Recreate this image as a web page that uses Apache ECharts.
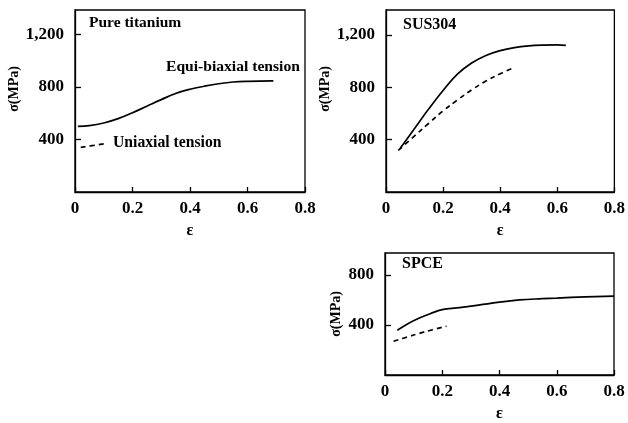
<!DOCTYPE html>
<html>
<head>
<meta charset="utf-8">
<script src="https://cdn.jsdelivr.net/npm/echarts@6/dist/echarts.min.js"></script>
<style>
  html, body { margin: 0; padding: 0; background: #fff; }
  #chart { width: 628px; height: 423px; }
</style>
</head>
<body>
<div id="chart"></div>
<script>
// strain / stress readings, [epsilon, sigma MPa]
const titaniumBiaxial = [
  [0.01, 500], [0.05, 505], [0.1, 525], [0.15, 558], [0.2, 603], [0.25, 653],
  [0.3, 703], [0.35, 750], [0.4, 782], [0.45, 805], [0.5, 824], [0.55, 837],
  [0.6, 842], [0.69, 845]
];
const titaniumUniaxial = [[0.02, 340], [0.1, 366]];

const susBiaxial = [
  [0.05, 335], [0.1, 485], [0.15, 635], [0.2, 775], [0.25, 900], [0.3, 985],
  [0.35, 1043], [0.4, 1080], [0.45, 1103], [0.5, 1116], [0.55, 1122], [0.6, 1124], [0.63, 1120]
];
const susUniaxial = [
  [0.043, 318], [0.1, 428], [0.15, 525], [0.2, 620], [0.25, 702],
  [0.3, 780], [0.35, 847], [0.4, 903], [0.45, 951]
];

const spceBiaxial = [
  [0.043, 357], [0.08, 410], [0.12, 455], [0.16, 492], [0.2, 522], [0.25, 537],
  [0.3, 550], [0.35, 566], [0.4, 582], [0.47, 600], [0.55, 610], [0.6, 615],
  [0.7, 624], [0.8, 630]
];
const spceUniaxial = [[0.03, 270], [0.08, 305], [0.12, 333], [0.16, 358], [0.215, 390]];

const xTicks = [0, 0.2, 0.4, 0.6, 0.8];
const panelTitles = ['Pure titanium', 'SUS304', 'SPCE'];

const chart = echarts.init(document.getElementById('chart'));
const FONT = '"Liberation Serif", "DejaVu Serif", serif';

const fmtY = v => v >= 1000 ? String(v).replace(/(\d)(\d{3})$/, '$1,$2') : String(v);

const grids = [
  { left: 75, top: 10, width: 230, height: 182 },
  { left: 386, top: 10, width: 229, height: 182 },
  { left: 385, top: 253, width: 229, height: 129 }
].map(g => Object.assign(g, { show: true, borderColor: '#000', borderWidth: 1.3, backgroundColor: 'transparent' }));

const yMax = [1385, 1390, 975];
const yNameGap = [52, 42, 42];

const xAxis = grids.map((g, i) => ({
  type: 'value',
  gridIndex: i,
  min: xTicks[0],
  max: xTicks[xTicks.length - 1],
  interval: 0.2,
  name: 'ε',
  nameLocation: 'middle',
  nameGap: 31,
  nameTextStyle: { fontFamily: FONT, fontWeight: 'bold', fontSize: 16, color: '#000' },
  axisLine: { show: true, lineStyle: { color: '#000', width: 1.3 } },
  axisTick: { show: true, inside: true, length: 5, lineStyle: { color: '#000', width: 1.3 } },
  axisLabel: { margin: 8, fontFamily: FONT, fontWeight: 'bold', fontSize: 17, color: '#000' },
  splitLine: { show: false }
}));

const yAxis = grids.map((g, i) => ({
  type: 'value',
  gridIndex: i,
  min: 0,
  max: yMax[i],
  interval: 400,
  name: 'σ(MPa)',
  nameLocation: 'middle',
  nameGap: yNameGap[i],
  nameRotate: 90,
  nameTextStyle: {
    fontFamily: FONT, fontWeight: 'bold', fontSize: 14, color: '#000',
    padding: i < 2 ? [0, 0, 0, 24] : [0, 0, 0, 0]
  },
  axisLine: { show: true, lineStyle: { color: '#000', width: 1.3 } },
  axisTick: { show: true, inside: true, length: 6, lineStyle: { color: '#000', width: 1.3 } },
  axisLabel: {
    margin: 11, showMinLabel: false, showMaxLabel: false,
    fontFamily: FONT, fontWeight: 'bold', fontSize: 17, color: '#000',
    formatter: fmtY
  },
  splitLine: { show: false }
}));

const line = (data, i, dashed) => ({
  type: 'line',
  xAxisIndex: i,
  yAxisIndex: i,
  data: data,
  smooth: 0.4,
  symbol: 'none',
  silent: true,
  lineStyle: { color: '#000', width: 1.7, type: dashed ? [5, 4] : 'solid' }
});

const textStyle = (size) => ({ fontFamily: FONT, fontWeight: 'bold', fontSize: size, fill: '#000' });

chart.setOption({
  backgroundColor: '#fff',
  animation: false,
  grid: grids,
  xAxis: xAxis,
  yAxis: yAxis,
  series: [
    line(titaniumBiaxial, 0, false),
    line(titaniumUniaxial, 0, true),
    line(susBiaxial, 1, false),
    line(susUniaxial, 1, true),
    line(spceBiaxial, 2, false),
    line(spceUniaxial, 2, true)
  ],
  graphic: [
    { type: 'text', left: 89, top: 15, style: Object.assign({ text: panelTitles[0] }, textStyle(15.5)) },
    { type: 'text', left: 166, top: 59, style: Object.assign({ text: 'Equi-biaxial tension' }, textStyle(15.6)) },
    { type: 'text', left: 113, top: 135, style: Object.assign({ text: 'Uniaxial tension' }, textStyle(15.7)) },
    { type: 'text', left: 403, top: 17, style: Object.assign({ text: panelTitles[1] }, textStyle(16)) },
    { type: 'text', left: 402, top: 256, style: Object.assign({ text: panelTitles[2] }, textStyle(16)) }
  ]
});
</script>
</body>
</html>
